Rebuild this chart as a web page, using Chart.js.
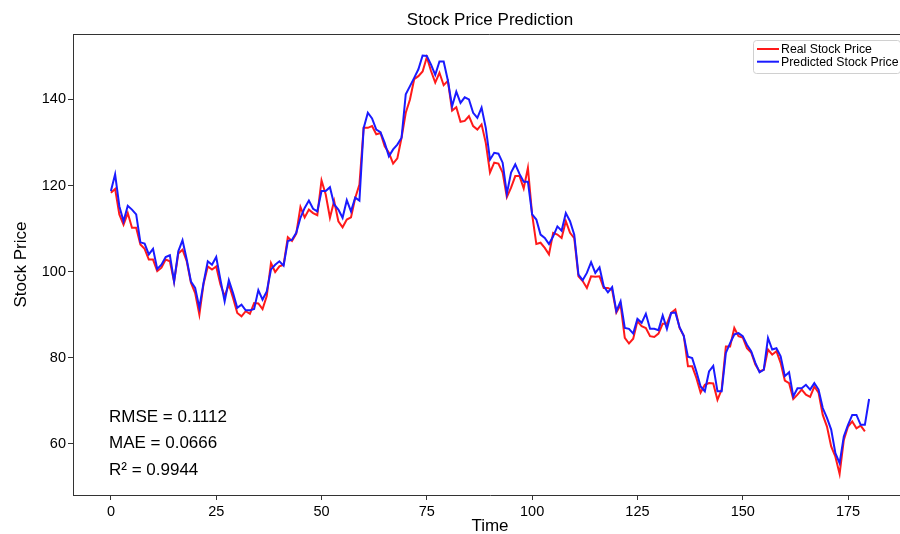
<!DOCTYPE html>
<html>
<head>
<meta charset="utf-8">
<title>Stock Price Prediction</title>
<script src="https://cdn.jsdelivr.net/npm/chart.js@4.4.1/dist/chart.umd.min.js"></script>
<style>
  html, body { margin: 0; padding: 0; background: #fff; overflow: hidden; width: 900px; height: 534px; }
  canvas { display: block; }
</style>
</head>
<body>
<canvas id="chart" width="910" height="534"></canvas>
<script>
// Real closing prices over the test window (time steps 0..179)
const realPrice = [
  118.3, 119.2, 113.3, 110.9, 113.6, 110.2, 110.2, 106.3, 105.3, 102.8,
  102.8, 100.1, 100.9, 102.8, 102.4, 97.7, 104.2, 105.1, 102.4, 97.4,
  95.0, 90.0, 97.2, 101.2, 100.5, 101.2, 97.0, 94.3, 97.0, 93.9,
  90.4, 89.6, 90.8, 90.2, 92.7, 92.6, 91.3, 94.3, 102.0, 99.9,
  101.2, 101.6, 108.0, 107.1, 108.8, 115.0, 112.6, 114.4, 113.6, 113.1,
  121.2, 117.9, 112.5, 116.4, 111.7, 110.3, 112.1, 112.6, 117.1, 120.2,
  133.4, 133.4, 133.8, 131.9, 132.2, 129.1, 127.6, 125.1, 126.3, 131.1,
  136.9, 140.0, 144.7, 145.4, 146.5, 149.8, 146.6, 143.9, 146.2, 143.3,
  144.3, 137.4, 138.2, 134.8, 135.0, 136.1, 133.8, 133.0, 134.2, 129.9,
  123.0, 125.3, 125.1, 123.0, 117.3, 119.5, 122.2, 122.2, 119.3, 124.1,
  113.3, 106.4, 106.7, 105.5, 104.0, 109.0, 108.6, 107.8, 111.7, 109.0,
  107.8, 98.9, 97.8, 96.2, 98.9, 98.8, 98.9, 96.2, 96.2, 95.7,
  90.5, 92.3, 84.6, 83.3, 84.4, 88.5, 87.3, 86.9, 85.0, 84.8,
  85.6, 87.9, 87.9, 90.4, 91.2, 86.9, 85.1, 78.0, 78.0, 75.3,
  71.9, 73.7, 74.1, 74.0, 70.2, 72.6, 82.6, 82.6, 86.9, 85.0,
  84.7, 82.2, 81.2, 78.4, 76.8, 77.2, 81.9, 80.7, 81.5, 78.8,
  74.7, 74.1, 70.4, 71.4, 72.6, 71.4, 70.9, 73.3, 71.9, 66.7,
  64.0, 59.4, 57.0, 53.0, 60.9, 64.0, 65.2, 63.6, 64.2, 62.9
];

// Model output (time steps 0..180, one step past the last real price)
const predictedPrice = [
  118.7, 122.6, 115.2, 111.7, 115.3, 114.4, 113.3, 106.8, 106.5, 104.0,
  105.3, 100.6, 101.6, 103.4, 103.8, 97.7, 104.7, 107.3, 102.8, 97.7,
  96.2, 91.6, 97.4, 102.4, 101.6, 103.4, 98.1, 93.1, 98.0, 95.0,
  91.6, 92.3, 91.0, 91.0, 91.3, 95.7, 93.5, 95.4, 100.5, 101.6,
  102.4, 101.4, 107.1, 107.4, 109.0, 112.5, 114.8, 116.5, 114.6, 114.0,
  118.7, 118.7, 119.6, 115.6, 114.4, 112.5, 116.6, 114.0, 117.2, 116.5,
  133.3, 136.9, 135.6, 133.0, 132.4, 129.9, 126.8, 128.4, 129.5, 131.1,
  141.2, 143.1, 145.0, 147.0, 150.2, 150.1, 148.1, 145.7, 148.8, 148.8,
  144.4, 138.4, 141.8, 139.2, 140.5, 140.0, 136.9, 135.7, 138.1, 133.4,
  126.0, 127.6, 127.4, 125.3, 118.1, 123.0, 124.9, 122.7, 120.9, 120.9,
  113.3, 112.1, 108.6, 107.8, 106.4, 108.2, 110.5, 109.5, 113.6, 111.7,
  108.6, 99.3, 98.0, 99.7, 102.2, 99.7, 101.0, 96.6, 95.2, 96.4,
  90.8, 93.1, 86.9, 86.7, 85.6, 89.0, 88.1, 90.2, 86.7, 86.7,
  86.4, 89.8, 86.7, 90.4, 90.5, 87.1, 85.1, 80.2, 79.9, 76.8,
  73.3, 72.2, 76.8, 78.1, 72.2, 72.2, 81.1, 83.4, 85.4, 85.7,
  85.0, 83.0, 81.5, 78.8, 76.6, 77.2, 84.6, 81.9, 82.2, 80.3,
  75.7, 76.6, 71.0, 72.9, 72.9, 73.7, 72.6, 74.1, 72.6, 68.3,
  66.0, 63.3, 57.8, 55.5, 61.7, 64.4, 66.7, 66.7, 64.4, 64.4,
  70.4
];

const xTickValues = [0, 25, 50, 75, 100, 125, 150, 175];
const yTickValues = [60, 80, 100, 120, 140];
const metricLines = ['RMSE = 0.1112', 'MAE = 0.0666', 'R\u00B2 = 0.9944'];

const FONT = '"Liberation Sans", Arial, Helvetica, sans-serif';
const AXIS_COLOR = '#333';

const toPoints = arr => arr.map((v, i) => ({ x: i, y: v }));

// Frame, title, axis labels, metrics text and legend box
const decorations = {
  id: 'decorations',
  afterDraw(chart) {
    const { ctx, chartArea: a } = chart;
    ctx.save();

    // top and right spines
    ctx.strokeStyle = AXIS_COLOR;
    ctx.lineWidth = 1;
    ctx.beginPath();
    const t = Math.round(a.top) + 0.5;
    const r = Math.round(a.right) - 0.5;
    ctx.moveTo(a.left, t);
    ctx.lineTo(r, t);
    ctx.lineTo(r, a.bottom);
    ctx.stroke();

    const cx = (a.left + a.right) / 2;
    ctx.fillStyle = '#000';

    // title
    ctx.font = '17px ' + FONT;
    ctx.textAlign = 'center';
    ctx.textBaseline = 'alphabetic';
    ctx.fillText('Stock Price Prediction', cx, 25);

    // x axis label
    ctx.fillText('Time', cx, 531);

    // y axis label
    ctx.save();
    ctx.translate(26, (a.top + a.bottom) / 2);
    ctx.rotate(-Math.PI / 2);
    ctx.textBaseline = 'alphabetic';
    ctx.fillText('Stock Price', 0, 0);
    ctx.restore();

    // error metrics
    ctx.textAlign = 'left';
    metricLines.forEach((txt, i) => {
      ctx.fillText(txt, 109, 421.5 + i * 26.7);
    });

    // legend
    const lx = 753.5, ly = 40.5, lw = 147, lh = 33;
    ctx.beginPath();
    ctx.roundRect(lx, ly, lw, lh, 3);
    ctx.fillStyle = 'rgba(255,255,255,0.8)';
    ctx.fill();
    ctx.strokeStyle = '#d0d0d0';
    ctx.stroke();
    ctx.font = '12.3px ' + FONT;
    ctx.textBaseline = 'middle';
    chart.data.datasets.forEach((ds, i) => {
      const y = 49 + i * 12.7;
      ctx.strokeStyle = ds.borderColor;
      ctx.lineWidth = 2;
      ctx.beginPath();
      ctx.moveTo(757, y);
      ctx.lineTo(779, y);
      ctx.stroke();
      ctx.fillStyle = '#000';
      ctx.fillText(ds.label, 781, y + 0.5);
    });

    ctx.restore();
  }
};

new Chart(document.getElementById('chart'), {
  type: 'line',
  data: {
    datasets: [
      {
        label: 'Real Stock Price',
        data: toPoints(realPrice),
        borderColor: '#ff1a1a',
        borderWidth: 2,
        pointRadius: 0,
        tension: 0,
        order: 2
      },
      {
        label: 'Predicted Stock Price',
        data: toPoints(predictedPrice),
        borderColor: '#1a1aff',
        borderWidth: 2,
        pointRadius: 0,
        tension: 0,
        order: 1
      }
    ]
  },
  options: {
    responsive: false,
    animation: false,
    devicePixelRatio: 1,
    layout: { padding: { top: 34, right: 3, left: 0, bottom: 0 } },
    plugins: {
      legend: { display: false },
      title: { display: false },
      tooltip: { enabled: false }
    },
    scales: {
      x: {
        type: 'linear',
        min: -9,
        max: 189,
        afterBuildTicks: s => { s.ticks = xTickValues.map(v => ({ value: v })); },
        afterFit: s => { s.height = 39; },
        ticks: {
          autoSkip: false,
          maxRotation: 0,
          padding: 3,
          color: '#000',
          font: { family: FONT, size: 14.5 }
        },
        grid: { drawOnChartArea: false, drawTicks: true, tickLength: 5, color: AXIS_COLOR },
        border: { display: true, color: AXIS_COLOR, width: 1 }
      },
      y: {
        type: 'linear',
        min: 48.1,
        max: 155.2,
        afterBuildTicks: s => { s.ticks = yTickValues.map(v => ({ value: v })); },
        afterFit: s => { s.width = 73; },
        ticks: {
          padding: 2,
          color: '#000',
          font: { family: FONT, size: 14.5 }
        },
        grid: { drawOnChartArea: false, drawTicks: true, tickLength: 5, color: AXIS_COLOR },
        border: { display: true, color: AXIS_COLOR, width: 1 }
      }
    }
  },
  plugins: [decorations]
});
</script>
</body>
</html>
